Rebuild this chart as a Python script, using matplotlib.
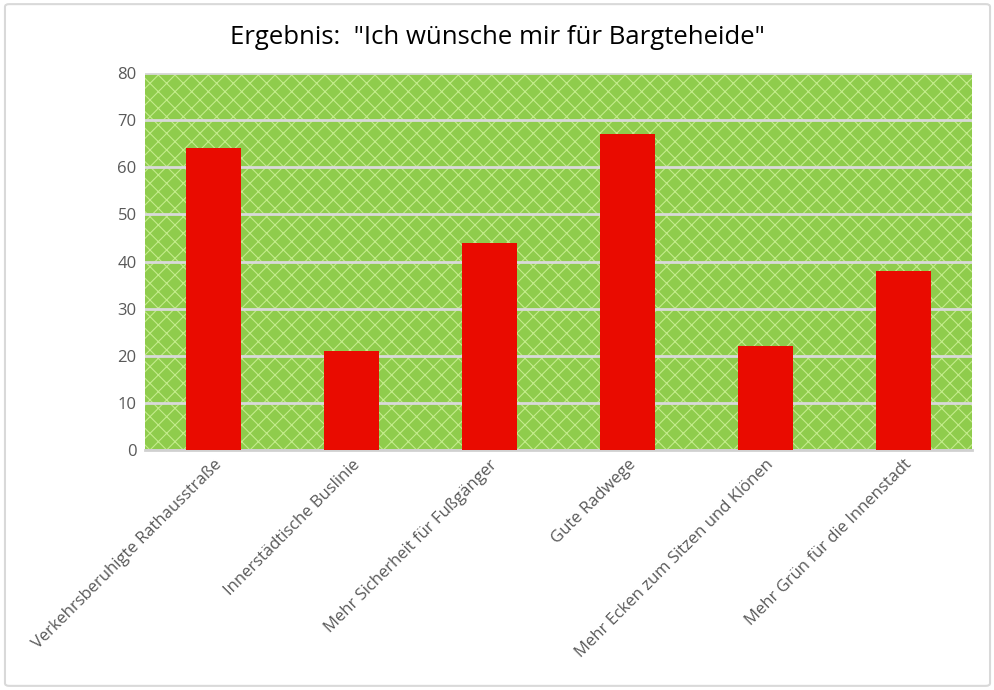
import matplotlib.pyplot as plt
from matplotlib.patches import Rectangle, FancyBboxPatch

kategorien = [
    "Verkehrsberuhigte Rathausstraße",
    "Innerstädtische Buslinie",
    "Mehr Sicherheit für Fußgänger",
    "Gute Radwege",
    "Mehr Ecken zum Sitzen und Klönen",
    "Mehr Grün für die Innenstadt",
]
stimmen = [64, 21, 44, 67, 22, 38]
y_ticks = [0, 10, 20, 30, 40, 50, 60, 70, 80]

plt.rcParams['font.family'] = ['Open Sans', 'DejaVu Sans']
plt.rcParams['hatch.linewidth'] = 0.8

fig = plt.figure(figsize=(9.95, 6.9), dpi=100)
ax = fig.add_axes([0.1457, 0.348, 0.8313, 0.546])

# Rahmen um das Diagramm
fig.patches.append(FancyBboxPatch((0.005, 0.006), 0.99, 0.988, boxstyle="round,pad=0,rounding_size=0.004",
                                  transform=fig.transFigure, facecolor='none', edgecolor='#d9d9d9', linewidth=1.5))

# gruener Hintergrund mit Gittermuster
ax.set_facecolor('#8fcc4c')
ax.add_patch(Rectangle((0, 0), 1, 1, transform=ax.transAxes, facecolor='#8fcc4c',
                       edgecolor='#c4ec8c', hatch='xx', linewidth=0, zorder=0))

x = range(len(kategorien))
ax.bar(x, stimmen, width=0.4, color='#e90b00', zorder=3)

ax.set_xlim(-0.5, len(kategorien) - 0.5)
ax.set_ylim(0, 80)
ax.set_yticks(y_ticks)
ax.yaxis.grid(True, color='#d9d9d9', linewidth=2, zorder=1)
ax.set_axisbelow(True)

for s in ['top', 'right', 'left']:
    ax.spines[s].set_visible(False)
ax.spines['bottom'].set_color('#d0d0d0')
ax.spines['bottom'].set_linewidth(2)

ax.tick_params(axis='both', length=0, colors='#595959')
ax.tick_params(axis='y', pad=6, labelsize=12)
ax.tick_params(axis='x', pad=5, labelsize=12)
ax.set_xticks(list(x))
ax.set_xticklabels(kategorien, rotation=45, ha='right', rotation_mode='anchor')

fig.text(0.5, 0.945, 'Ergebnis:  "Ich wünsche mir für Bargteheide"', ha='center', va='center',
         fontsize=18.5, color='#000000')

plt.savefig('out.png', dpi=100)
